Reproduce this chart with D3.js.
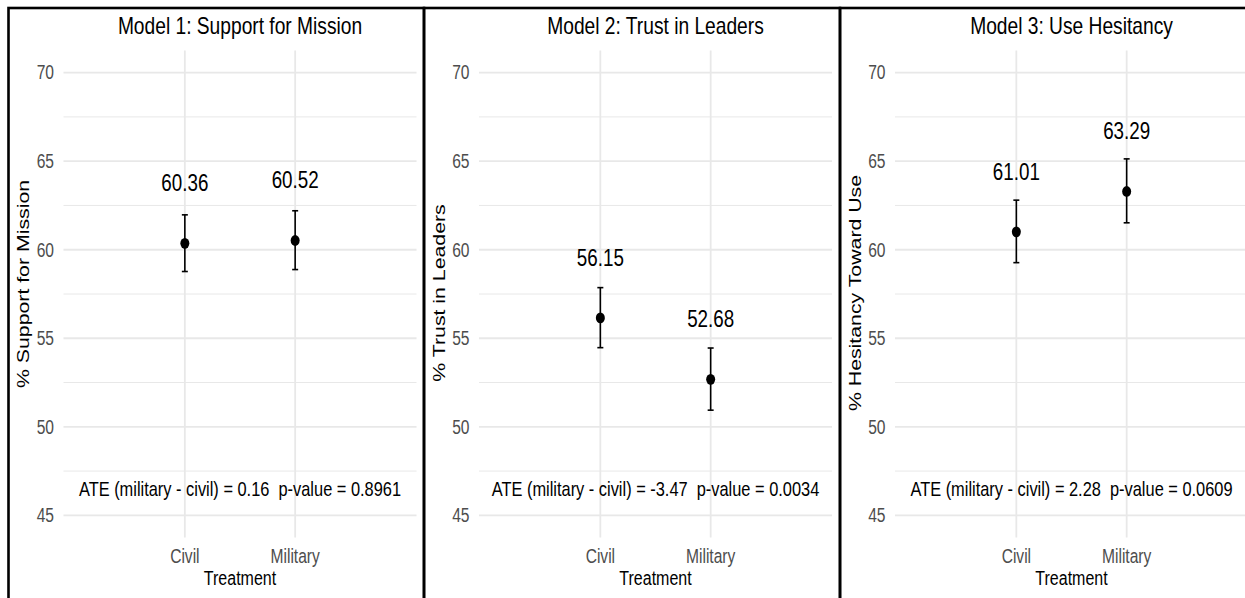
<!DOCTYPE html>
<html>
<head>
<meta charset="utf-8">
<script src="https://cdn.jsdelivr.net/npm/d3@7"></script>
<style>
  body { margin: 0; background: #fff; }
  text { font-family: "Liberation Sans", Arial, sans-serif; }
</style>
</head>
<body>
<script>
// data
const panelTitles = ["Model 1: Support for Mission", "Model 2: Trust in Leaders", "Model 3: Use Hesitancy"];
const yTitles = ["% Support for Mission", "% Trust in Leaders", "% Hesitancy Toward Use"];
const categories = ["Civil", "Military"];
const means = [[60.36, 60.52], [56.15, 52.68], [61.01, 63.29]];
const lower = [[58.77, 58.88], [54.47, 50.94], [59.27, 61.52]];
const upper = [[61.97, 62.2], [57.86, 54.45], [62.8, 65.13]];
const ateTexts = [
  "ATE (military - civil) = 0.16  p-value = 0.8961",
  "ATE (military - civil) = -3.47  p-value = 0.0034",
  "ATE (military - civil) = 2.28  p-value = 0.0609"
];
const ateY = 46.5;
const labelOffset = 2.95;
const yTicks = [45, 50, 55, 60, 65, 70];
const yMinor = [47.5, 52.5, 57.5, 62.5, 67.5];

const width = 1245, height = 598;
const sx = 0.8; // the picture is squeezed sideways
const panelW = 416;
const panelX = [8.5, 424, 840];
const yTitleMid = [284, 293, 293];

const svg = d3.select("body").append("svg")
  .attr("width", width)
  .attr("height", height);

const y = d3.scaleLinear().domain([43.75, 71.25]).range([537.5, 50.5]);

// squeezed text helper
function label(g, x, yy, str, opts) {
  const t = g.append("g")
    .attr("transform", `translate(${x},${yy}) scale(${sx},1)` + (opts.rotate ? " rotate(-90)" : ""))
    .append("text")
    .attr("text-anchor", opts.anchor || "middle")
    .attr("font-size", opts.size)
    .attr("fill", opts.fill || "#000")
    .style("white-space", "pre")
    .text(str);
  if (opts.dy) t.attr("dy", opts.dy);
  return t;
}

panelTitles.forEach((title, i) => {
  const g = svg.append("g");
  const left = panelX[i] + 55;
  const x = d3.scalePoint().domain(categories).range([left, left + 353]).padding(1.1);
  const cx = (left + left + 353) / 2;

  // grid
  g.append("g").selectAll("line.minor")
    .data(yMinor)
    .join("line")
    .attr("x1", left).attr("x2", left + 353)
    .attr("y1", d => y(d)).attr("y2", d => y(d))
    .attr("stroke", "#e8e8e8").attr("stroke-width", 1);
  g.append("g").selectAll("line.major")
    .data(yTicks)
    .join("line")
    .attr("x1", left).attr("x2", left + 353)
    .attr("y1", d => y(d)).attr("y2", d => y(d))
    .attr("stroke", "#e8e8e8").attr("stroke-width", 1.8);
  g.append("g").selectAll("line.vx")
    .data(categories)
    .join("line")
    .attr("x1", d => x(d)).attr("x2", d => x(d))
    .attr("y1", y.range()[0]).attr("y2", y.range()[1])
    .attr("stroke", "#e8e8e8").attr("stroke-width", 1.8);

  // y tick labels
  yTicks.forEach(t => label(g, left - 9.5, y(t), String(t), { size: 19.5, anchor: "end", fill: "#4d4d4d", dy: "0.35em" }));
  // x tick labels
  categories.forEach(c => label(g, x(c), 563, c, { size: 19.5, fill: "#4d4d4d" }));
  label(g, cx, 585, "Treatment", { size: 20 });
  label(g, panelX[i] + 20.5, yTitleMid[i], yTitles[i], { size: 21.3, rotate: true });
  label(g, cx, 34, title, { size: 24 });

  // error bars and points
  categories.forEach((c, j) => {
    const px = x(c);
    g.append("line")
      .attr("x1", px).attr("x2", px)
      .attr("y1", y(lower[i][j])).attr("y2", y(upper[i][j]))
      .attr("stroke", "#000").attr("stroke-width", 1.6);
    [lower[i][j], upper[i][j]].forEach(v => {
      g.append("line")
        .attr("x1", px - 3).attr("x2", px + 3)
        .attr("y1", y(v)).attr("y2", y(v))
        .attr("stroke", "#000").attr("stroke-width", 1.6);
    });
    g.append("ellipse")
      .attr("cx", px).attr("cy", y(means[i][j]))
      .attr("rx", 4.5).attr("ry", 5.4)
      .attr("fill", "#000");
    label(g, px, y(means[i][j] + labelOffset), means[i][j].toFixed(2), { size: 23.5 });
  });

  label(g, cx, y(ateY), ateTexts[i], { size: 20.5, dy: "0.35em" });

  // panel border
  svg.append("rect")
    .attr("x", panelX[i]).attr("y", 8)
    .attr("width", i === 2 ? panelW + 20 : panelX[i + 1] - panelX[i]).attr("height", 620)
    .attr("fill", "none")
    .attr("stroke", "#000").attr("stroke-width", 2.6);
});
</script>
</body>
</html>
